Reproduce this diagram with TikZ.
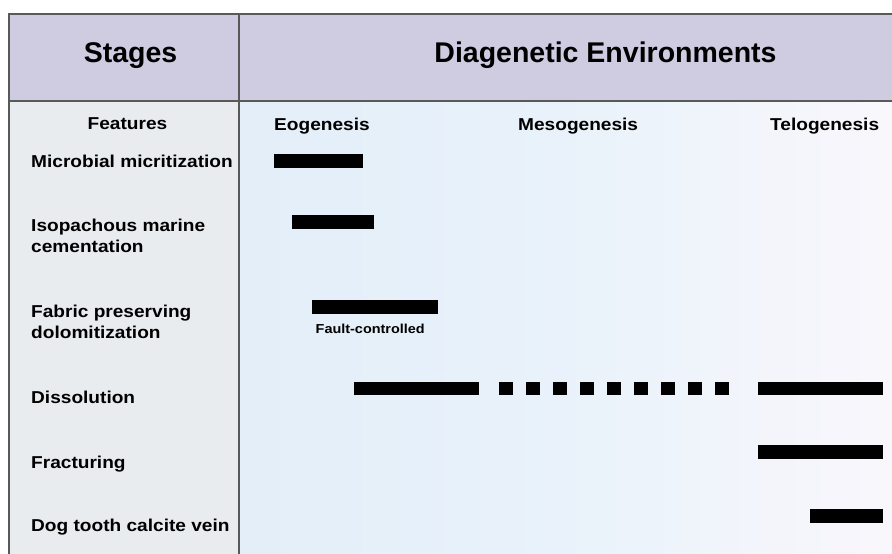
\documentclass[tikz,border=0pt]{standalone}
\usepackage{fontspec}
\setmainfont{Liberation Sans}
\newfontfamily\widesans[FakeStretch=1.11]{Liberation Sans}
\begin{document}
\begin{tikzpicture}[x=1pt,y=-1pt,
  frame/.style={draw=black!65,line width=1.2pt},
  hdr/.style={font=\bfseries\fontsize{28.5}{32}\selectfont,anchor=base,inner sep=0pt},
  sub/.style={font=\widesans\bfseries\fontsize{17.2}{21}\selectfont,anchor=base west,inner sep=0pt},
  feat/.style={font=\widesans\bfseries\fontsize{17.2}{21}\selectfont,anchor=base west,inner sep=0pt,align=left},
  small/.style={font=\widesans\bfseries\fontsize{13}{15}\selectfont,anchor=base west,inner sep=0pt},
  bar/.style={fill=black}]
\definecolor{hdrfill}{HTML}{CFCCE1}
\definecolor{leftfill}{HTML}{E8ECEF}
\definecolor{bgA}{HTML}{E3EEF9}
\definecolor{bgB}{HTML}{E9F2FA}
\definecolor{bgC}{HTML}{F9F7FC}
\useasboundingbox (0,0) rectangle (892,554);
\fill[white] (0,0) rectangle (892,554);
% backgrounds
\fill[hdrfill] (9,14) rectangle (892,101);
\fill[leftfill] (9,101) rectangle (239,554);
\shade[left color=bgA,right color=bgC,middle color=bgB] (239,101) rectangle (892,554);
% frame
\draw[frame] (892,14) -- (9,14) -- (9,554);
\draw[frame] (9,101) -- (892,101);
\draw[frame] (239,14) -- (239,554);
% headers
\node[hdr] (stages) at (130.5,62) {Stages};
\node[hdr] (env) at (605.5,62) {Diagenetic Environments};
\node[sub] (features) at (87.5,129.5) {Features};
\node[sub] (eo) at (274,130) {Eogenesis};
\node[sub] (meso) at (518,130) {Mesogenesis};
\node[sub] (telo) at (770,130) {Telogenesis};
% features
\node[feat] (f1) at (31,167) {Microbial micritization};
\node[feat] (f2) at (31,252.7) {Isopachous marine\\cementation};
\node[feat] (f3) at (31,338.5) {Fabric preserving\\dolomitization};
\node[feat] (f4) at (31,403) {Dissolution};
\node[feat] (f5) at (31,468) {Fracturing};
\node[feat] (f6) at (31,531.5) {Dog tooth calcite vein};
% bars
\fill[bar] (274,154) rectangle (362.5,167.5);
\fill[bar] (292,215) rectangle (373.5,228.5);
\fill[bar] (312,300) rectangle (437.5,313.5);
\node[small] (fault) at (315.5,333) {Fault-controlled};
\fill[bar] (354,381.5) rectangle (478.5,395);
\foreach \i in {0,...,8} {
  \fill[bar] (499+27*\i,381.5) rectangle (512.5+27*\i,395);
}
\fill[bar] (758,381.5) rectangle (883,395);
\fill[bar] (758,445) rectangle (883,458.5);
\fill[bar] (810,509) rectangle (883,522.5);
\end{tikzpicture}
\end{document}
